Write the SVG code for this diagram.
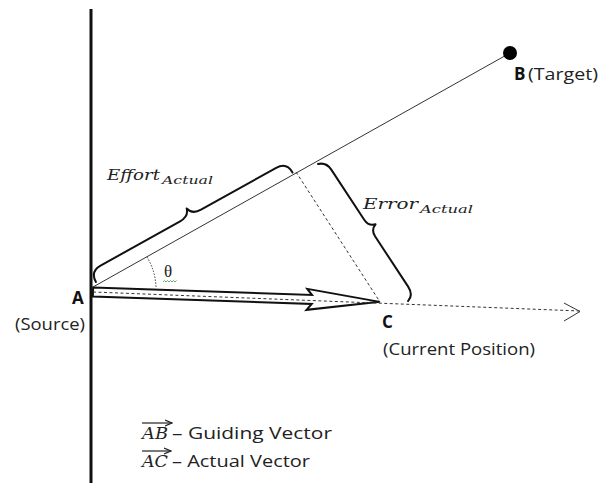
<svg xmlns="http://www.w3.org/2000/svg" width="600" height="483" viewBox="0 0 600 483">
<defs>
<style>
.lbl{font-family:"Open Sans","Liberation Sans",sans-serif;font-size:17px;fill:#222}
.bold{font-family:"Open Sans","Liberation Sans",sans-serif;font-size:17px;font-weight:bold;fill:#111}
.math{font-family:"DejaVu Serif","Liberation Serif",serif;font-style:italic;fill:#222}
.thin{stroke:#333;stroke-width:1;fill:none}
.dash{stroke:#333;stroke-width:1;fill:none;stroke-dasharray:3,2.5}
.brace{stroke:#111;stroke-width:2;fill:none;stroke-linejoin:round;stroke-linecap:round}
</style>
<marker id="vec" viewBox="0 0 8 8" refX="7" refY="4" markerWidth="8" markerHeight="8" markerUnits="userSpaceOnUse" orient="auto">
<path d="M0,1 L7,4 L0,7" fill="none" stroke="#222" stroke-width="1.2"/>
</marker>
</defs>
<rect width="600" height="483" fill="#fff"/>

<g id="connectors">
<line id="axis" x1="91" y1="9" x2="91" y2="483" stroke="#111" stroke-width="3"/>
<line id="AB" class="thin" x1="93" y1="287" x2="510" y2="53"/>
<polygon id="AC-arrow" transform="translate(93,292) rotate(1.97)" points="0,-4.5 219,-4.5 214,-10.5 287,0 214,10.5 219,4.5 0,4.5" fill="#fff" stroke="#111" stroke-width="2" stroke-linejoin="miter"/>
<line id="AC-dashed" class="dash" x1="93" y1="292" x2="580" y2="311"/>
<polyline class="thin" points="564,303 580,311.5 564,321"/>
<line id="perp" class="dash" x1="296" y1="172" x2="380" y2="302"/>
<path id="theta-arc" d="M147,257 A62,62 0 0 1 156,287" fill="none" stroke="#333" stroke-width="1" stroke-dasharray="1.5,1.5"/>
</g>

<g id="node-B">
<circle cx="510" cy="53" r="7" fill="#000"/>
<text class="bold" x="514" y="80">B</text>
<text class="lbl" x="528" y="80" textLength="70" lengthAdjust="spacingAndGlyphs">(Target)</text>
</g>

<g id="node-A">
<text class="bold" x="72" y="304">A</text>
<text class="lbl" x="15" y="330" textLength="70" lengthAdjust="spacingAndGlyphs">(Source)</text>
</g>

<g id="node-C">
<text class="bold" x="382" y="328">C</text>
<text class="lbl" x="383" y="355" textLength="152" lengthAdjust="spacingAndGlyphs">(Current Position)</text>
</g>

<g id="effort">
<path class="brace" transform="translate(93,287) rotate(-29.1)" d="M5,-3 Q5,-15 17,-15 L108,-15 Q118,-15 120,-23 Q122,-15 132,-15 L218,-15 Q230,-15 230,-3"/>
<text class="math" x="107" y="180" font-size="14" textLength="53" lengthAdjust="spacingAndGlyphs">Effort</text>
<text class="math" x="162" y="184" font-size="11" textLength="51" lengthAdjust="spacingAndGlyphs">Actual</text>
</g>

<g id="error">
<path class="brace" transform="translate(318,164) rotate(56.7)" d="M0,0 Q3,-8 12,-8 L72,-8 Q80,-8 82,-15 Q84,-8 92,-8 L152,-8 Q162,-8 164,0"/>
<text class="math" x="363" y="209" font-size="14" textLength="55" lengthAdjust="spacingAndGlyphs">Error</text>
<text class="math" x="420" y="213" font-size="11" textLength="53" lengthAdjust="spacingAndGlyphs">Actual</text>
</g>

<g id="theta">
<text x="164" y="277" font-family="Liberation Serif, serif" font-size="17" fill="#222">θ</text>
<path d="M163,282 l1.5,-1.5 l1.5,1.5 l1.5,-1.5 l1.5,1.5 l1.5,-1.5 l1.5,1.5 l1.5,-1.5 l1.5,1.5 l1.5,-1.5" fill="none" stroke="#5cae5c" stroke-width="1"/>
</g>

<g id="legend">
<line x1="142" y1="423" x2="172" y2="423" stroke="#222" stroke-width="1.2" marker-end="url(#vec)"/>
<text class="math" x="142" y="439" font-size="17" textLength="26" lengthAdjust="spacingAndGlyphs">AB</text>
<text class="lbl" x="172" y="439" textLength="160" lengthAdjust="spacingAndGlyphs">– Guiding Vector</text>
<line x1="142" y1="451" x2="171" y2="451" stroke="#222" stroke-width="1.2" marker-end="url(#vec)"/>
<text class="math" x="142" y="467" font-size="17" textLength="26" lengthAdjust="spacingAndGlyphs">AC</text>
<text class="lbl" x="172" y="467" textLength="138" lengthAdjust="spacingAndGlyphs">– Actual Vector</text>
</g>
</svg>
